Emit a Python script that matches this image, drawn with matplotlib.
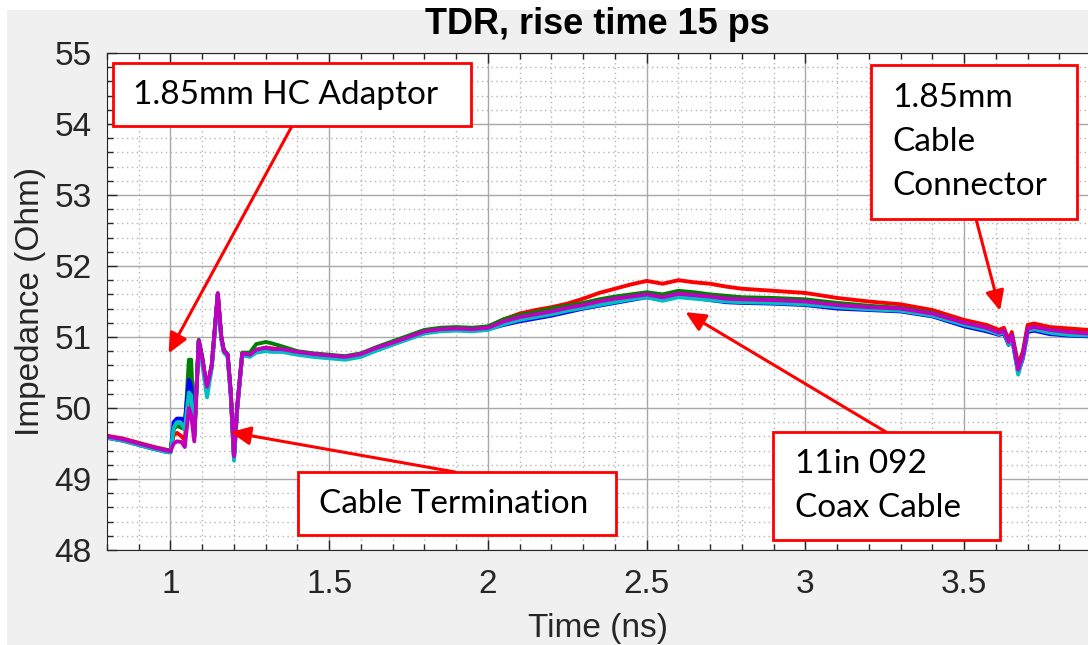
import numpy as np
import matplotlib
matplotlib.use('Agg')
import matplotlib.pyplot as plt
from matplotlib.patches import Rectangle
from matplotlib.ticker import MultipleLocator

# time axis (ns)
t = [0.80, 0.85, 0.90, 0.95, 0.99, 1.00,
     1.01, 1.02, 1.035, 1.045, 1.058, 1.065, 1.075, 1.089, 1.10, 1.115, 1.13, 1.149, 1.16, 1.168, 1.18, 1.19, 1.20, 1.21,
     1.226, 1.25, 1.27, 1.30, 1.32, 1.35, 1.40, 1.45, 1.50, 1.55, 1.60, 1.65, 1.70, 1.75, 1.80, 1.85, 1.90, 1.95, 2.00,
     2.05, 2.10, 2.15, 2.20, 2.25, 2.30, 2.35, 2.40, 2.45, 2.50, 2.55, 2.60, 2.65, 2.70, 2.75, 2.80, 2.90, 3.00,
     3.10, 3.20, 3.30, 3.40, 3.50, 3.57, 3.61, 3.625, 3.64, 3.65, 3.67, 3.685, 3.70, 3.72, 3.77, 3.83, 3.89]

# impedance traces (Ohm)
z_red = [49.61, 49.57, 49.51, 49.45, 49.41, 49.40,
         49.62, 49.65, 49.60, 49.55, 50.25, 50.10, 49.60, 50.95, 50.70, 50.25, 50.60, 51.60, 51.00, 50.80, 50.75, 50.20, 49.30, 50.00,
         50.77, 50.76, 50.82, 50.85, 50.84, 50.82, 50.79, 50.76, 50.74, 50.71, 50.75, 50.85, 50.93, 51.01, 51.09, 51.12, 51.13, 51.12, 51.14,
         51.25, 51.33, 51.38, 51.42, 51.47, 51.54, 51.62, 51.68, 51.74, 51.79, 51.75, 51.80, 51.77, 51.75, 51.71, 51.68, 51.65, 51.62,
         51.55, 51.50, 51.46, 51.38, 51.24, 51.17, 51.10, 51.13, 50.96, 51.07, 50.61, 50.80, 51.17, 51.19, 51.14, 51.12, 51.10]
z_green = [49.60, 49.55, 49.50, 49.44, 49.40, 49.39,
           49.70, 49.75, 49.72, 49.70, 50.68, 50.68, 49.60, 50.96, 50.72, 50.25, 50.62, 51.60, 51.00, 50.82, 50.76, 50.22, 49.32, 50.02,
           50.78, 50.78, 50.90, 50.93, 50.91, 50.87, 50.80, 50.77, 50.75, 50.73, 50.77, 50.86, 50.94, 51.02, 51.10, 51.13, 51.14, 51.13, 51.15,
           51.25, 51.31, 51.35, 51.40, 51.44, 51.48, 51.53, 51.57, 51.60, 51.63, 51.60, 51.65, 51.63, 51.60, 51.58, 51.56, 51.55, 51.53,
           51.48, 51.44, 51.41, 51.34, 51.20, 51.13, 51.06, 51.09, 50.93, 51.03, 50.55, 50.76, 51.12, 51.14, 51.10, 51.07, 51.05]
z_blue = [49.58, 49.54, 49.48, 49.42, 49.38, 49.38,
          49.80, 49.85, 49.85, 49.80, 50.40, 50.30, 49.65, 50.94, 50.68, 50.25, 50.58, 51.60, 50.98, 50.80, 50.74, 50.18, 49.30, 49.98,
          50.76, 50.74, 50.80, 50.83, 50.81, 50.80, 50.77, 50.74, 50.72, 50.70, 50.74, 50.83, 50.90, 50.98, 51.06, 51.09, 51.10, 51.09, 51.11,
          51.17, 51.22, 51.26, 51.30, 51.35, 51.40, 51.44, 51.48, 51.52, 51.56, 51.52, 51.57, 51.55, 51.52, 51.49, 51.48, 51.47, 51.45,
          51.40, 51.38, 51.36, 51.29, 51.15, 51.08, 51.03, 51.05, 50.89, 50.99, 50.50, 50.70, 51.07, 51.09, 51.04, 51.02, 51.01]
z_cyan = [49.58, 49.54, 49.48, 49.42, 49.38, 49.37,
          49.72, 49.80, 49.78, 49.70, 50.22, 50.18, 49.60, 50.93, 50.62, 50.15, 50.56, 51.58, 50.96, 50.78, 50.72, 50.15, 49.26, 49.96,
          50.74, 50.72, 50.78, 50.80, 50.79, 50.79, 50.75, 50.72, 50.70, 50.68, 50.72, 50.81, 50.89, 50.97, 51.05, 51.08, 51.09, 51.08, 51.10,
          51.18, 51.24, 51.28, 51.32, 51.37, 51.41, 51.45, 51.49, 51.53, 51.56, 51.51, 51.56, 51.54, 51.52, 51.50, 51.49, 51.48, 51.46,
          51.42, 51.39, 51.37, 51.30, 51.17, 51.10, 51.04, 51.07, 50.90, 51.00, 50.47, 50.72, 51.09, 51.11, 51.06, 51.03, 51.02]
z_magenta = [49.60, 49.56, 49.50, 49.44, 49.40, 49.39,
             49.50, 49.53, 49.52, 49.45, 50.00, 49.90, 49.53, 50.95, 50.70, 50.30, 50.60, 51.62, 51.00, 50.80, 50.75, 50.20, 49.32, 50.00,
             50.77, 50.75, 50.82, 50.85, 50.83, 50.83, 50.79, 50.76, 50.74, 50.72, 50.76, 50.85, 50.92, 51.00, 51.08, 51.11, 51.12, 51.11, 51.13,
             51.22, 51.28, 51.32, 51.36, 51.41, 51.45, 51.50, 51.54, 51.57, 51.60, 51.56, 51.61, 51.59, 51.57, 51.54, 51.53, 51.52, 51.50,
             51.45, 51.42, 51.40, 51.33, 51.20, 51.13, 51.06, 51.09, 50.93, 51.03, 50.54, 50.75, 51.12, 51.14, 51.10, 51.07, 51.05]

traces = [(z_red, (1, 0, 0)), (z_green, (0, 0.5, 0)), (z_blue, (0, 0, 1)),
          (z_cyan, (0, 0.75, 0.75)), (z_magenta, (0.75, 0, 0.75))]

# callouts: text, box (px: left, top, right, bottom), text anchor (px), arrow tail (px), arrow tip (data)
callouts = [
    ("1.85mm HC Adaptor", (113, 63, 471, 126), (133, 95), (292, 126), (0.994, 50.77)),
    ("Cable Termination", (298, 472, 616, 535), (319, 504), (455, 472), (1.189, 49.66)),
    ("11in 092\nCoax Cable", (773, 432, 1000, 540), (795, 486), (886, 432), (2.622, 51.35)),
    ("1.85mm\nCable\nConnector", (871, 65, 1077, 219), (892, 142), (976, 219), (3.613, 51.37)),
]

W, H = 1088, 645
plt.rcParams['font.family'] = ['Liberation Sans', 'DejaVu Sans']
fig = plt.figure(figsize=(W / 100, H / 100), dpi=100, facecolor='#f0f0f0')

# screenshot white margins
fig.add_artist(Rectangle((0, 1 - 10 / H), 1, 10 / H, transform=fig.transFigure,
                         facecolor='white', edgecolor='none', zorder=0))
fig.add_artist(Rectangle((0, 0), 7 / W, 1, transform=fig.transFigure,
                         facecolor='white', edgecolor='none', zorder=0))

ax = fig.add_axes([107 / W, 1 - 550 / H, 1 - 107 / W, (550 - 53) / H])
ax.set_facecolor('white')

for z, c in traces:
    ax.plot(t, z, color=c, lw=2.8, solid_joinstyle='round')

ax.set_xlim(0.8, 3.89)
ax.set_ylim(48, 55)
ax.xaxis.set_major_locator(MultipleLocator(0.5))
ax.xaxis.set_minor_locator(MultipleLocator(0.1))
ax.yaxis.set_major_locator(MultipleLocator(1))
ax.yaxis.set_minor_locator(MultipleLocator(0.2))
ax.set_xticks([1, 1.5, 2, 2.5, 3, 3.5])
ax.set_xticklabels(['1', '1.5', '2', '2.5', '3', '3.5'])

ax.grid(which='major', color='#a8a8a8', lw=1.0, ls='-')
ax.grid(which='minor', color='#b4b4b4', lw=1.0, ls=(0, (1, 2.5)))
ax.set_axisbelow(True)

ax.tick_params(which='both', direction='in', top=True, right=False, colors='#262626',
               labelsize=24, width=1)
ax.tick_params(which='major', length=7)
ax.tick_params(which='minor', length=4)
ax.tick_params(axis='x', pad=14)
ax.tick_params(axis='y', pad=11)
for s in ['left', 'bottom', 'top']:
    ax.spines[s].set_color('#262626')
ax.spines['right'].set_visible(False)

ax.set_xlabel('Time (ns)', fontsize=24, color='#262626', labelpad=9)
ax.set_ylabel('Impedance (Ohm)', fontsize=24, color='#262626', labelpad=6)
ax.set_title('TDR, rise time 15 ps', fontsize=26, fontweight='bold', pad=14)

def fx(px):
    return px / W

def fy(py):
    return 1 - py / H

for text, (l, tp, r, b), (tx, ty), (ax_px, ay_px), tip in callouts:
    ax.annotate('', xy=tip, xycoords='data', xytext=(fx(ax_px), fy(ay_px)),
                textcoords='figure fraction', annotation_clip=False,
                arrowprops=dict(arrowstyle='-|>,head_length=0.6,head_width=0.28',
                                mutation_scale=20, color='red', lw=2.2,
                                shrinkA=0, shrinkB=0))
    fig.add_artist(Rectangle((fx(l), fy(b)), (r - l) / W, (b - tp) / H,
                             transform=fig.transFigure, facecolor='white',
                             edgecolor='red', lw=2, zorder=5))
    fig.text(fx(tx), fy(ty), text, ha='left', va='center', fontsize=24,
             family=['Lato', 'DejaVu Sans'], linespacing=1.6, zorder=6)

fig.savefig('out.png', dpi=100, facecolor=fig.get_facecolor())
